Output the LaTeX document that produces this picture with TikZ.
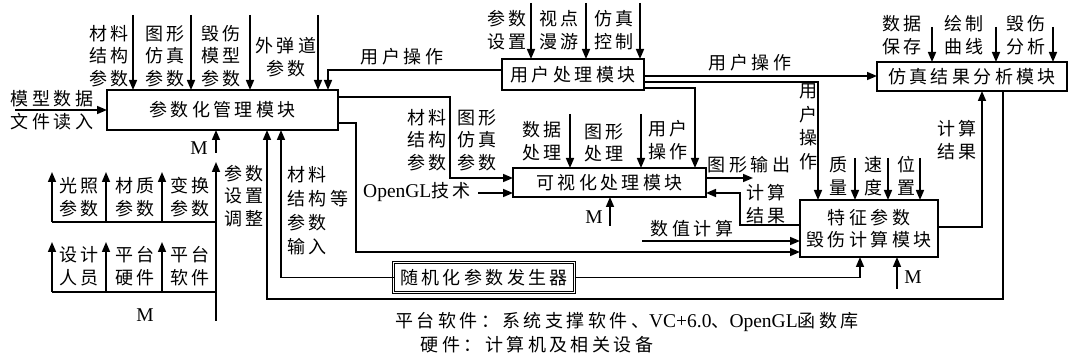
\documentclass[tikz,border=0pt]{standalone}
\usepackage{fontspec}
\setmainfont{Liberation Serif}
\newfontfamily\cjk[LetterSpace=19]{Noto Sans CJK SC}
\newfontfamily\latf{Liberation Serif}
\newcommand{\lat}[1]{{\latf\fontsize{19.5}{22}\selectfont #1}}
\usetikzlibrary{arrows.meta}
\tikzset{
  lbl/.style={font=\cjk\fontsize{18}{22.5}\selectfont, align=center, inner sep=0pt},
  mlbl/.style={font=\latf\fontsize{19.5}{22}\selectfont, inner sep=0pt},
  modbox/.style={draw, line width=1.6pt, inner sep=0pt, outer sep=0pt, align=center,
     font=\cjk\fontsize{18}{22}\selectfont},
  ln/.style={line width=1.6pt},
  arr/.style={line width=1.6pt, -{Triangle[length=10pt,width=8pt]}},
}
\begin{document}
\begin{tikzpicture}[x=1pt,y=-1pt]
\useasboundingbox (0,0) rectangle (1069,358);
% modules
\node[modbox, minimum width=231pt, minimum height=40pt] (b1) at (222.5,110) {参数化管理模块};
\node[modbox, minimum width=142pt, minimum height=31pt] (bu) at (573,74.5) {用户处理模块};
\node[modbox, minimum width=190pt, minimum height=29pt] (ba) at (972,76.5) {仿真结果分析模块};
\node[modbox, minimum width=193pt, minimum height=29pt] (bv) at (609.5,182.5) {可视化处理模块};
\node[modbox, minimum width=138pt, minimum height=57pt] (bd) at (869,228.5) {特征参数\\毁伤计算模块};
\node[modbox, line width=1pt, double, double distance=1.3pt, minimum width=181pt, minimum height=30pt] (br) at (484,277.5) {随机化参数发生器};

% inputs to b1 top
\foreach \x in {133,191,250,318} \draw[arr] (\x,15) -- (b1.north -| \x,0);
\node[lbl] at (109,56) {材料\\结构\\参数};
\node[lbl] at (165,56) {图形\\仿真\\参数};
\node[lbl] at (221,56) {毁伤\\模型\\参数};
\node[lbl] at (286,57) {外弹道\\参数};
% model data input
\draw[arr] (15,110) -- (b1.west);
\node[lbl] at (52,110) {模型数据\\文件读入};
% user -> b1
\draw[arr] (bu.west |- 0,70) -- (328,70) -- (b1.north -| 328,0);
\node[lbl] at (402,57) {用户操作};

% user module inputs
\foreach \x in {531,586,640} \draw[arr] (\x,3) -- (bu.north -| \x,0);
\node[lbl] at (507,30) {参数\\设置};
\node[lbl] at (559,30) {视点\\漫游};
\node[lbl] at (614,30) {仿真\\控制};

% user -> analysis, damage, visual
\draw[arr] (bu.east |- 0,76) -- (ba.west |- 0,76);
\node[lbl] at (750,63) {用户操作};
\draw[arr] (bu.east |- 0,82) -- (818,82) -- (bd.north -| 818,0);
\node[lbl, text width=18pt, font=\cjk\fontsize{18}{23.5}\selectfont] at (808,127) {用\\户\\操\\作};
\draw[arr] (bu.east |- 0,88) -- (695,88) -- (bv.north -| 695,0);

% analysis inputs
\foreach \x in {932,996,1053} \draw[arr] (\x,27) -- (ba.north -| \x,0);
\node[lbl] at (902,35) {数据\\保存};
\node[lbl] at (964,35) {绘制\\曲线};
\node[lbl] at (1026,35) {毁伤\\分析};

% b1 -> visual
\draw[arr] (b1.east |- 0,97) -- (450,97) -- (450,178) -- (bv.west |- 0,178);
\node[lbl] at (427,140) {材料\\结构\\参数};
\node[lbl] at (477,140) {图形\\仿真\\参数};
% OpenGL
\draw[arr] (478,193) -- (bv.west |- 0,193);
\node[lbl] at (417,192) {\lat{OpenGL}技术};
% visual top inputs
\foreach \x in {570,641} \draw[arr] (\x,114) -- (bv.north -| \x,0);
\node[lbl] at (542,141) {数据\\处理};
\node[lbl] at (604,143) {图形\\处理};
\node[lbl] at (668,140) {用户\\操作};
% visual M
\draw[arr] (610,226) -- (bv.south -| 610,0);
\node[mlbl] at (594,217) {M};
% visual -> graphics output
\draw[arr] (bv.east |- 0,178) -- (753,178);
\node[lbl] at (749,165) {图形输出};
% damage -> visual
\draw[arr] (bd.west |- 0,225) -- (740,225) -- (740,193) -- (bv.east |- 0,193);
\node[lbl] at (766,204) {计算\\结果};

% b1 -> damage
\draw[arr] (b1.east |- 0,123) -- (356,123) -- (356,252) -- (bd.west |- 0,252);
\draw[arr] (642,241) -- (bd.west |- 0,241);
\node[lbl] at (692,229) {数值计算};
% damage top inputs
\foreach \x in {855,888,920} \draw[arr] (\x,158) -- (bd.north -| \x,0);
\node[lbl] at (838,176) {质\\量};
\node[lbl] at (873,176) {速\\度};
\node[lbl] at (906,176) {位\\置};
% damage -> analysis
\draw[arr] (bd.east |- 0,227) -- (982,227) -- (ba.south -| 982,0);
\node[lbl] at (957,140) {计算\\结果};
% damage M
\draw[arr] (897,289) -- (bd.south -| 897,0);
\node[mlbl] at (913,277) {M};

% analysis -> b1 feedback
\draw[arr] (ba.south -| 1003,0) -- (1003,299) -- (267,299) -- (b1.south -| 267,0);
% random -> b1, random -> damage
\draw[arr] (br.west) -- (281,277.5) -- (b1.south -| 281,0);
\draw[arr] (br.east) -- (860,277.5) -- (bd.south -| 860,0);
\node[lbl, align=left, font=\cjk\fontsize{18}{24}\selectfont, anchor=west] at (287,211) {材料\\结构等\\参数\\输入};

% b1 M and parameter adjust
\draw[arr] (216,153) -- (b1.south -| 216,0);
\node[mlbl] at (199,148) {M};
\draw[arr] (216,321) -- (216,162);
\node[lbl] at (244,196) {参数\\设置\\调整};
% left groups
\draw[ln] (52,222) -- (216,222);
\foreach \x in {52,106,162} \draw[arr] (\x,222) -- (\x,172);
\node[lbl] at (79,197) {光照\\参数};
\node[lbl] at (135,197) {材质\\参数};
\node[lbl] at (190,197) {变换\\参数};
\draw[ln] (52,292) -- (216,292);
\foreach \x in {52,106,162} \draw[arr] (\x,292) -- (\x,242);
\node[lbl] at (79,266) {设计\\人员};
\node[lbl] at (135,266) {平台\\硬件};
\node[lbl] at (190,266) {平台\\软件};
\node[mlbl] at (145,315) {M};

% footer
\node[lbl] at (627,322) {平台软件：系统支撑软件、\lat{VC+6.0}、\lat{OpenGL}函数库};
\node[lbl] at (537,345) {硬件：计算机及相关设备};
\end{tikzpicture}
\end{document}
